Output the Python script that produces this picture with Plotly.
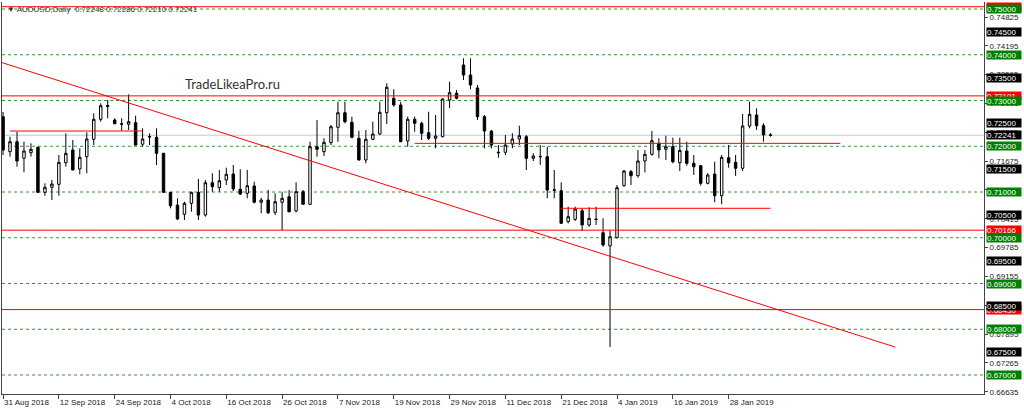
import plotly.graph_objects as go

# AUDUSD daily bars, 31 Aug 2018 .. early Feb 2019 (bar index on x)
opens = [0.72646, 0.71881, 0.72099, 0.71737, 0.71859, 0.71977, 0.70993, 0.71103, 0.71168, 0.71640,
         0.71918, 0.71503, 0.71772, 0.72152, 0.72589, 0.72890, 0.72574, 0.72490, 0.72480, 0.72515,
         0.72043, 0.72200, 0.72196, 0.71846, 0.70993, 0.70716, 0.70513, 0.70753, 0.70993, 0.70497,
         0.71203, 0.71094, 0.71262, 0.71393, 0.71059, 0.70972, 0.71131, 0.70775, 0.70825, 0.70556,
         0.70775, 0.70897, 0.70585, 0.71007, 0.70731, 0.71990, 0.71881, 0.72078, 0.72414, 0.72733,
         0.72524, 0.72174, 0.71699, 0.72152, 0.72268, 0.72733, 0.73048, 0.72902, 0.72115, 0.72589,
         0.72502, 0.72296, 0.72174, 0.72209, 0.73011, 0.73157, 0.73776, 0.73557, 0.73273, 0.72646,
         0.72333, 0.71870, 0.71868, 0.72049, 0.72158, 0.72209, 0.71737, 0.71780, 0.71772, 0.71050,
         0.71028, 0.70351, 0.70403, 0.70591, 0.70279, 0.70410, 0.70110, 0.69820, 0.70001, 0.71138,
         0.71444, 0.71356, 0.71678, 0.71824, 0.72064, 0.71933, 0.71990, 0.71640, 0.71896, 0.71627,
         0.71575, 0.71190, 0.71393, 0.70919, 0.71750, 0.71649, 0.71518, 0.72443, 0.72683, 0.72449,
         0.72248]
highs = [0.72749, 0.72209, 0.72318, 0.72099, 0.72064, 0.71990, 0.71190, 0.71262, 0.71809, 0.72283,
         0.72137, 0.71955, 0.72305, 0.72720, 0.72939, 0.73011, 0.72611, 0.72611, 0.73135, 0.72668,
         0.72392, 0.72283, 0.72392, 0.71850, 0.71000, 0.70862, 0.70788, 0.71007, 0.71284, 0.71262,
         0.71409, 0.71481, 0.71531, 0.71590, 0.71496, 0.71481, 0.71225, 0.70875, 0.71044, 0.70972,
         0.71007, 0.71044, 0.71212, 0.71044, 0.72099, 0.72574, 0.72174, 0.72464, 0.72974, 0.72974,
         0.72646, 0.72340, 0.72355, 0.72537, 0.72974, 0.73376, 0.73245, 0.72974, 0.72646, 0.72646,
         0.72537, 0.72755, 0.72683, 0.73048, 0.73411, 0.73230, 0.73922, 0.73922, 0.73339, 0.72683,
         0.72355, 0.72027, 0.72246, 0.72283, 0.72449, 0.72246, 0.71846, 0.72027, 0.71990, 0.71481,
         0.71212, 0.70679, 0.70679, 0.70644, 0.70666, 0.70679, 0.70425, 0.70169, 0.71153, 0.71481,
         0.71481, 0.71918, 0.71918, 0.72333, 0.72174, 0.72231, 0.72187, 0.72187, 0.72099, 0.71809,
         0.71590, 0.71409, 0.71662, 0.71809, 0.72027, 0.71809, 0.72705, 0.72974, 0.72830, 0.72502,
         0.72286]
lows = [0.71809, 0.71772, 0.71553, 0.71431, 0.71772, 0.70985, 0.70919, 0.70825, 0.70919, 0.71553,
        0.71475, 0.71387, 0.71409, 0.72027, 0.72537, 0.72611, 0.72480, 0.72340, 0.72355, 0.72020,
        0.71990, 0.72027, 0.71590, 0.70985, 0.70644, 0.70388, 0.70388, 0.70569, 0.70388, 0.70460,
        0.71007, 0.71007, 0.71153, 0.71022, 0.70934, 0.70862, 0.70753, 0.70534, 0.70519, 0.70497,
        0.70169, 0.70556, 0.70556, 0.70725, 0.70716, 0.71772, 0.71787, 0.72027, 0.72099, 0.72502,
        0.72174, 0.71690, 0.71627, 0.72137, 0.72246, 0.72486, 0.72864, 0.72090, 0.71990, 0.72318,
        0.72137, 0.72137, 0.71955, 0.72196, 0.72830, 0.73026, 0.73448, 0.73245, 0.72574, 0.71955,
        0.71955, 0.71750, 0.71809, 0.71955, 0.72027, 0.71481, 0.71678, 0.71590, 0.70862, 0.70862,
        0.70310, 0.70316, 0.70366, 0.70147, 0.70242, 0.70279, 0.69804, 0.67612, 0.69988, 0.71116,
        0.71153, 0.71313, 0.71431, 0.71793, 0.71737, 0.71699, 0.71627, 0.71459, 0.71575, 0.71372,
        0.71138, 0.71168, 0.70775, 0.70731, 0.71531, 0.71350, 0.71459, 0.72392, 0.72355, 0.72099,
        0.72210]
closes = [0.71918, 0.72099, 0.71678, 0.71896, 0.71933, 0.70993, 0.71103, 0.71175, 0.71649, 0.71846,
          0.71481, 0.71758, 0.72158, 0.72589, 0.72886, 0.72870, 0.72493, 0.72485, 0.72537, 0.72027,
          0.72158, 0.72210, 0.71846, 0.70993, 0.70701, 0.70410, 0.70753, 0.70993, 0.70497, 0.71203,
          0.71116, 0.71247, 0.71387, 0.71066, 0.70956, 0.71138, 0.70775, 0.70825, 0.70548, 0.70788,
          0.70862, 0.70569, 0.71007, 0.70731, 0.71990, 0.71933, 0.72086, 0.72427, 0.72733, 0.72537,
          0.72196, 0.71699, 0.72152, 0.72268, 0.72742, 0.73289, 0.72902, 0.72099, 0.72589, 0.72502,
          0.72283, 0.72174, 0.72224, 0.73033, 0.73170, 0.73048, 0.73557, 0.73339, 0.72646, 0.72333,
          0.72027, 0.71859, 0.72027, 0.72158, 0.72231, 0.71737, 0.71787, 0.71772, 0.71044, 0.71040,
          0.70316, 0.70460, 0.70628, 0.70279, 0.70425, 0.70400, 0.69842, 0.70023, 0.71094, 0.71459,
          0.71356, 0.71678, 0.71824, 0.72121, 0.71918, 0.71990, 0.71662, 0.71911, 0.71627, 0.71553,
          0.71190, 0.71372, 0.70919, 0.71758, 0.71640, 0.71518, 0.72443, 0.72698, 0.72449, 0.72248,
          0.72241]
bars = list(range(len(closes)))

tick_index = [0, 8, 16, 24, 32, 40, 48, 56, 64, 72, 80, 88, 96, 104]
tick_labels = ["31 Aug 2018", "12 Sep 2018", "24 Sep 2018", "4 Oct 2018", "16 Oct 2018",
               "26 Oct 2018", "7 Nov 2018", "19 Nov 2018", "29 Nov 2018", "11 Dec 2018",
               "21 Dec 2018", "4 Jan 2019", "16 Jan 2019", "28 Jan 2019"]

price_ticks = [0.74825, 0.74195, 0.73565, 0.72935, 0.72305, 0.71675, 0.71045,
               0.70415, 0.69785, 0.69155, 0.68525, 0.67895, 0.67265, 0.66635]

grid_levels = [0.75, 0.74, 0.73, 0.72, 0.71, 0.70, 0.69, 0.68, 0.67]
half_levels = [0.745, 0.735, 0.725, 0.715, 0.705, 0.695, 0.685, 0.675]
red_levels = [0.7505, 0.73101, 0.70166, 0.6843]
segment_levels = [0.72333, 0.72064, 0.70644]
segment_start = [1, 59, 80]
segment_end = [20, 120, 110]
trend_bars = [-0.4, 127.9]
trend_prices = [0.7384, 0.6761]
bid = 0.72241

FONT = "Liberation Sans"
GREEN = "#008000"

fig = go.Figure()
fig.add_trace(go.Candlestick(
    x=bars, open=opens, high=highs, low=lows, close=closes,
    increasing=dict(line=dict(color="black", width=1), fillcolor="white"),
    decreasing=dict(line=dict(color="black", width=1), fillcolor="black"),
    whiskerwidth=0, hoverinfo="skip",
))

shapes = []
for lv in grid_levels:
    shapes.append(dict(type="line", xref="paper", yref="y", x0=0, x1=1, y0=lv, y1=lv,
                       line=dict(color="#2f9a2f", width=1, dash="3px,3px"), layer="below"))
shapes.append(dict(type="line", xref="paper", yref="y", x0=0, x1=1, y0=bid, y1=bid,
                   line=dict(color="#c8c8c8", width=1), layer="below"))
for lv in red_levels:
    shapes.append(dict(type="line", xref="paper", yref="y", x0=0, x1=1, y0=lv, y1=lv,
                       line=dict(color="red", width=1)))
for lv, a, b in zip(segment_levels, segment_start, segment_end):
    shapes.append(dict(type="line", xref="x", yref="y", x0=a, x1=b, y0=lv, y1=lv,
                       line=dict(color="red", width=1)))
shapes.append(dict(type="line", xref="x", yref="y", x0=trend_bars[0], x1=trend_bars[1],
                   y0=trend_prices[0], y1=trend_prices[1], line=dict(color="red", width=1)))

annotations = []


def price_box(value, color):
    annotations.append(dict(
        xref="paper", yref="y", x=1, y=value, xanchor="left", yanchor="middle", xshift=2,
        text=f"{value:.5f}", showarrow=False, bgcolor=color, width=34, height=8,
        borderpad=0, align="left", font=dict(family=FONT, size=8, color="white"),
    ))


for lv in red_levels:
    price_box(lv, "red")
for lv in grid_levels:
    price_box(lv, GREEN)
for lv in half_levels:
    price_box(lv, "black")
price_box(bid, "black")

annotations.append(dict(
    xref="paper", yref="paper", x=0.003, y=0.982, xanchor="left", yanchor="middle",
    text="\u25bc AUDUSD,Daily  0.72248 0.72286 0.72210 0.72241", showarrow=False,
    font=dict(family=FONT, size=8, color="#333"),
))
annotations.append(dict(
    xref="paper", yref="paper", x=0.2352, y=0.791, xanchor="center", yanchor="middle",
    text="TradeLikeaPro.ru", showarrow=False,
    font=dict(family="Lato", size=13, color="#333"),
))

fig.update_layout(
    width=1024, height=413,
    margin=dict(l=2, r=40, t=2, b=19),
    paper_bgcolor="white", plot_bgcolor="white",
    showlegend=False, boxgap=0.5,
    shapes=shapes, annotations=annotations,
    xaxis=dict(
        range=[-0.15, 140.6], tickvals=tick_index, ticktext=tick_labels,
        ticks="outside", ticklen=4, tickcolor="#444", ticklabelposition="outside right",
        showline=True, linecolor="#444", linewidth=1, showgrid=False, zeroline=False,
        rangeslider=dict(visible=False),
        tickfont=dict(family=FONT, size=8, color="#222"),
    ),
    yaxis=dict(
        side="right", range=[0.66585, 0.75153], tickvals=price_ticks,
        ticktext=[f"{v:.5f}" for v in price_ticks],
        ticks="outside", ticklen=3, tickcolor="#444",
        showline=True, mirror=True, linecolor="#444", linewidth=1,
        showgrid=False, zeroline=False,
        tickfont=dict(family=FONT, size=8, color="#222"),
    ),
)

fig.write_html("out.html", config={"displayModeBar": False},
               post_script="document.body.style.margin='0';document.body.style.overflow='hidden';")
